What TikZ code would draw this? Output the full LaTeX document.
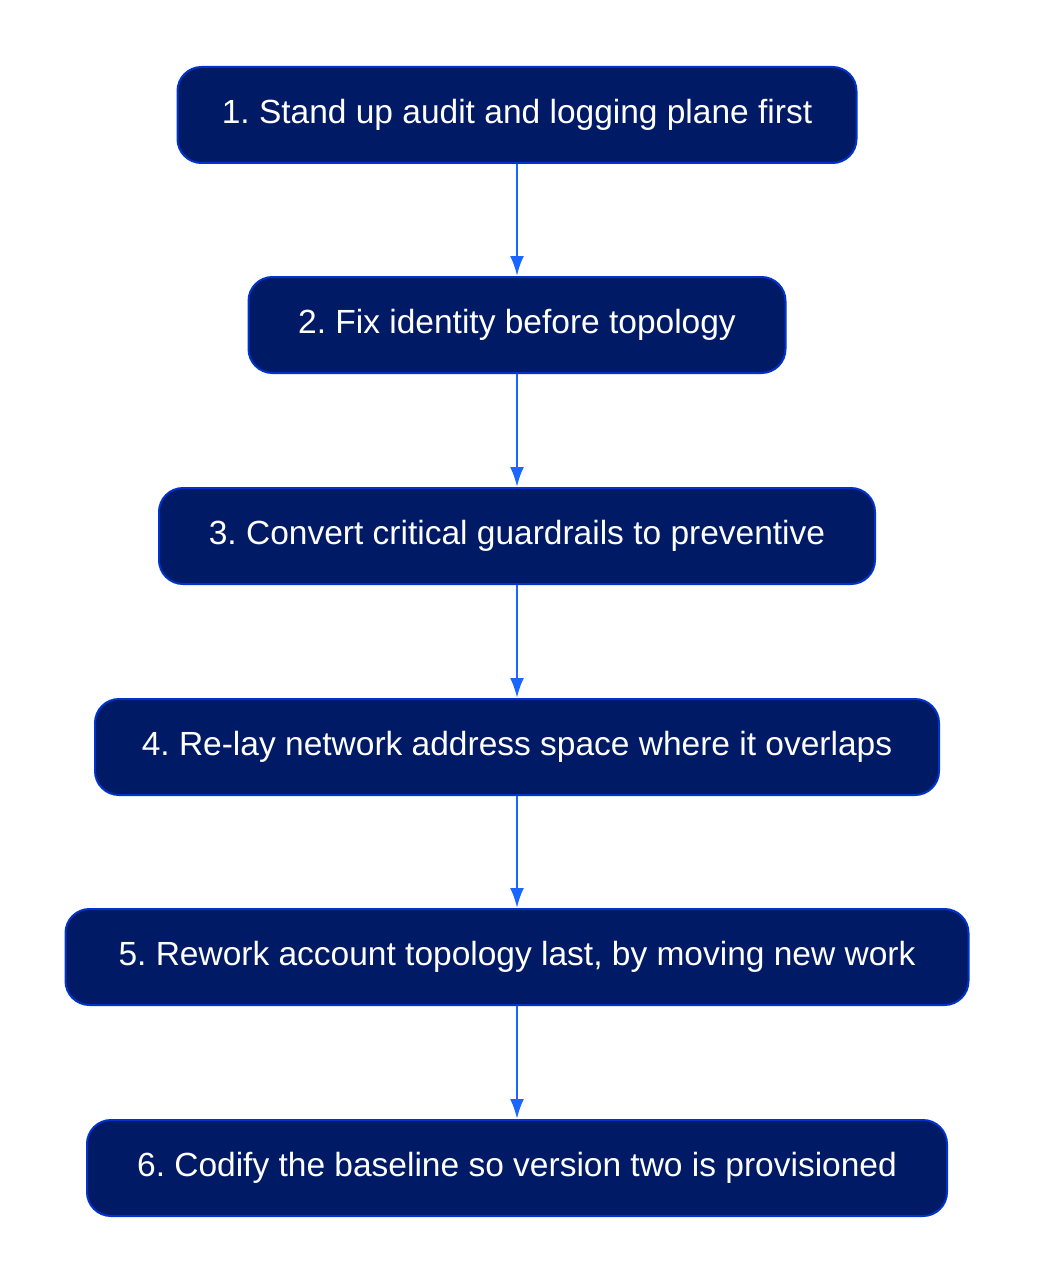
\documentclass[tikz,border=0pt]{standalone}
\usepackage{fontspec}
\setmainfont{Liberation Sans}
\usetikzlibrary{arrows.meta}
\definecolor{boxfill}{HTML}{001A66}
\definecolor{boxline}{HTML}{0033CC}
\definecolor{arr}{HTML}{1A66FF}
\frenchspacing
\begin{document}
\begin{tikzpicture}[x=1pt,y=-1pt,
  stepbox/.style={draw=boxline,line width=2pt,fill=boxfill,rounded corners=24pt,
    text=white,font=\fontsize{33.5}{38}\selectfont,minimum height=96pt,inner sep=0pt},
  conn/.style={draw=arr,line width=2.5pt,-{Latex[length=20pt,width=14pt]}}]
\useasboundingbox (0,0) rectangle (1036,1284);
\node[stepbox,minimum width=679pt] (n1) at (517,115) {1. Stand up audit and logging plane first};
\node[stepbox,minimum width=537pt] (n2) at (517,325) {2. Fix identity before topology};
\node[stepbox,minimum width=716pt] (n3) at (517,536) {3. Convert critical guardrails to preventive};
\node[stepbox,minimum width=844pt] (n4) at (517,747) {4. Re-lay network address space where it overlaps};
\node[stepbox,minimum width=903pt] (n5) at (517,957) {5. Rework account topology last, by moving new work};
\node[stepbox,minimum width=860pt] (n6) at (517,1168) {6. Codify the baseline so version two is provisioned};
\draw[conn] (n1) -- (n2);
\draw[conn] (n2) -- (n3);
\draw[conn] (n3) -- (n4);
\draw[conn] (n4) -- (n5);
\draw[conn] (n5) -- (n6);
\end{tikzpicture}
\end{document}
